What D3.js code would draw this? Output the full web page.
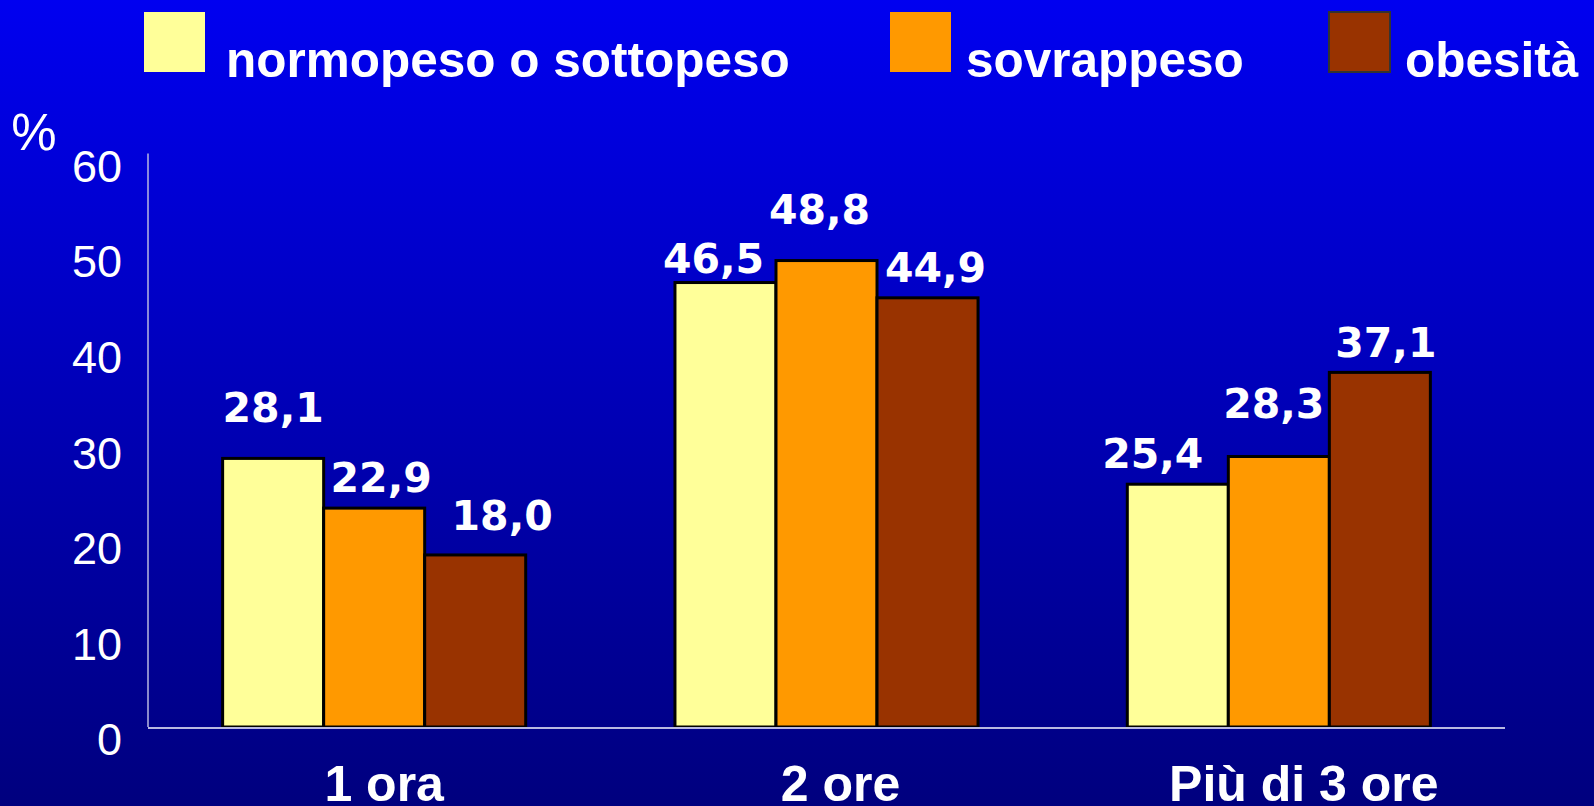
<!DOCTYPE html>
<html>
<head>
<meta charset="utf-8">
<script src="https://cdn.jsdelivr.net/npm/d3@7"></script>
<style>
  html, body { margin: 0; padding: 0; background: #000080; overflow: hidden; }
  svg { display: block; }
</style>
</head>
<body>
<svg id="chart" width="1594" height="806"></svg>
<script>
// ---- Data ----
const categories = ["1 ora", "2 ore", "Più di 3 ore"];
const seriesNames = ["normopeso o sottopeso", "sovrappeso", "obesità"];
const normopeso = [28.1, 46.5, 25.4];
const sovrappeso = [22.9, 48.8, 28.3];
const obesita = [18.0, 44.9, 37.1];
const yTicks = [0, 10, 20, 30, 40, 50, 60];
const yLabel = "%";

// ---- Layout / styles ----
const W = 1594, H = 806;
const margin = { left: 148, right: 89, top: 153.5, bottom: 79 };
const colors = ["#ffff99", "#ff9900", "#993300"];
// manual label offsets (dx from bar centre, baseline gap above bar top), as in the slide
const labelDx = [[0, 7, 27], [-12, -7, 8], [-25, -5, 6]];
const labelGap = [[36, 16, 25], [10, 37, 16], [16, 38, 15]];
const catDx = [10, 14, 25];

const svg = d3.select("#chart");
const defs = svg.append("defs");
const grad = defs.append("linearGradient").attr("id", "bg").attr("x1", 0).attr("y1", 0).attr("x2", 0).attr("y2", 1);
grad.append("stop").attr("offset", "0%").attr("stop-color", "#0000f0");
grad.append("stop").attr("offset", "100%").attr("stop-color", "#00007e");
svg.append("rect").attr("width", W).attr("height", H).attr("fill", "url(#bg)");

const series = [normopeso, sovrappeso, obesita];
const data = categories.map((c, i) => ({ cat: c, values: series.map((s, j) => ({ key: seriesNames[j], j, i, v: s[i] })) }));

const x0 = d3.scaleBand().domain(categories)
  .range([margin.left, W - margin.right]).paddingInner(0.33).paddingOuter(0.165);
const x1 = d3.scaleBand().domain(seriesNames).range([0, x0.bandwidth()]).padding(0);
const y = d3.scaleLinear().domain([0, 60]).range([H - margin.bottom, margin.top]);

// Y axis tick labels
const yAxis = d3.axisLeft(y).tickValues(yTicks).tickSize(0).tickPadding(0);
const gy = svg.append("g").attr("transform", `translate(${margin.left},0)`).call(yAxis);
gy.select(".domain").remove();
gy.selectAll("text")
  .attr("x", -26).attr("dy", "0.62em")
  .attr("fill", "#ffffff")
  .style("font-family", "'Liberation Sans', Arial, sans-serif")
  .style("font-size", "45px");

// % label
svg.append("text").attr("x", 34).attr("y", 150).attr("text-anchor", "middle")
  .attr("fill", "#fff").style("font-family", "'Liberation Sans', Arial, sans-serif")
  .style("font-size", "51px").text(yLabel);

// Bars
const groups = svg.append("g").selectAll("g").data(data).join("g")
  .attr("transform", d => `translate(${x0(d.cat)},0)`);
groups.selectAll("rect").data(d => d.values).join("rect")
  .attr("x", d => x1(d.key))
  .attr("y", d => y(d.v))
  .attr("width", x1.bandwidth())
  .attr("height", d => y(0) - y(d.v))
  .attr("fill", d => colors[d.j])
  .attr("stroke", "#000")
  .attr("stroke-width", 3);

// Axis lines
svg.append("line").attr("x1", margin.left).attr("x2", margin.left)
  .attr("y1", y(60)).attr("y2", y(0)).attr("stroke", "#b8b8e0").attr("stroke-width", 1.5);
svg.append("line").attr("x1", margin.left).attr("x2", W - margin.right)
  .attr("y1", y(0) + 1).attr("y2", y(0) + 1).attr("stroke", "#b8b8e0").attr("stroke-width", 2);

// Value labels
groups.selectAll("text.val").data(d => d.values).join("text")
  .attr("class", "val")
  .attr("x", d => x1(d.key) + x1.bandwidth() / 2 + labelDx[d.i][d.j])
  .attr("y", d => y(d.v) - labelGap[d.i][d.j])
  .attr("text-anchor", "middle")
  .attr("fill", "#fff")
  .style("font-family", "'DejaVu Sans', Verdana, sans-serif")
  .style("font-weight", "bold")
  .style("font-size", "41px")
  .text(d => d3.format(".1f")(d.v).replace(".", ","));

// Category labels
svg.append("g").selectAll("text").data(categories).join("text")
  .attr("x", (d, i) => x0(d) + x0.bandwidth() / 2 + catDx[i])
  .attr("y", 801)
  .attr("text-anchor", "middle")
  .attr("fill", "#fff")
  .style("font-family", "'Liberation Sans', Arial, sans-serif")
  .style("font-weight", "bold")
  .style("font-size", "50px")
  .text(d => d);

// Legend
const legendX = [144, 890, 1329];
const legendTextX = [226, 966, 1405];
const lg = svg.append("g").selectAll("g").data(seriesNames).join("g");
lg.append("rect")
  .attr("x", (d, i) => legendX[i]).attr("y", 12)
  .attr("width", 61).attr("height", 60)
  .attr("fill", (d, i) => colors[i])
  .attr("stroke", (d, i) => i === 2 ? "#333333" : "none")
  .attr("stroke-width", 2);
lg.append("text")
  .attr("x", (d, i) => legendTextX[i]).attr("y", 77)
  .attr("fill", "#fff")
  .style("font-family", "'Liberation Sans', Arial, sans-serif")
  .style("font-weight", "bold")
  .style("font-size", "49.5px")
  .text(d => d);
</script>
</body>
</html>
